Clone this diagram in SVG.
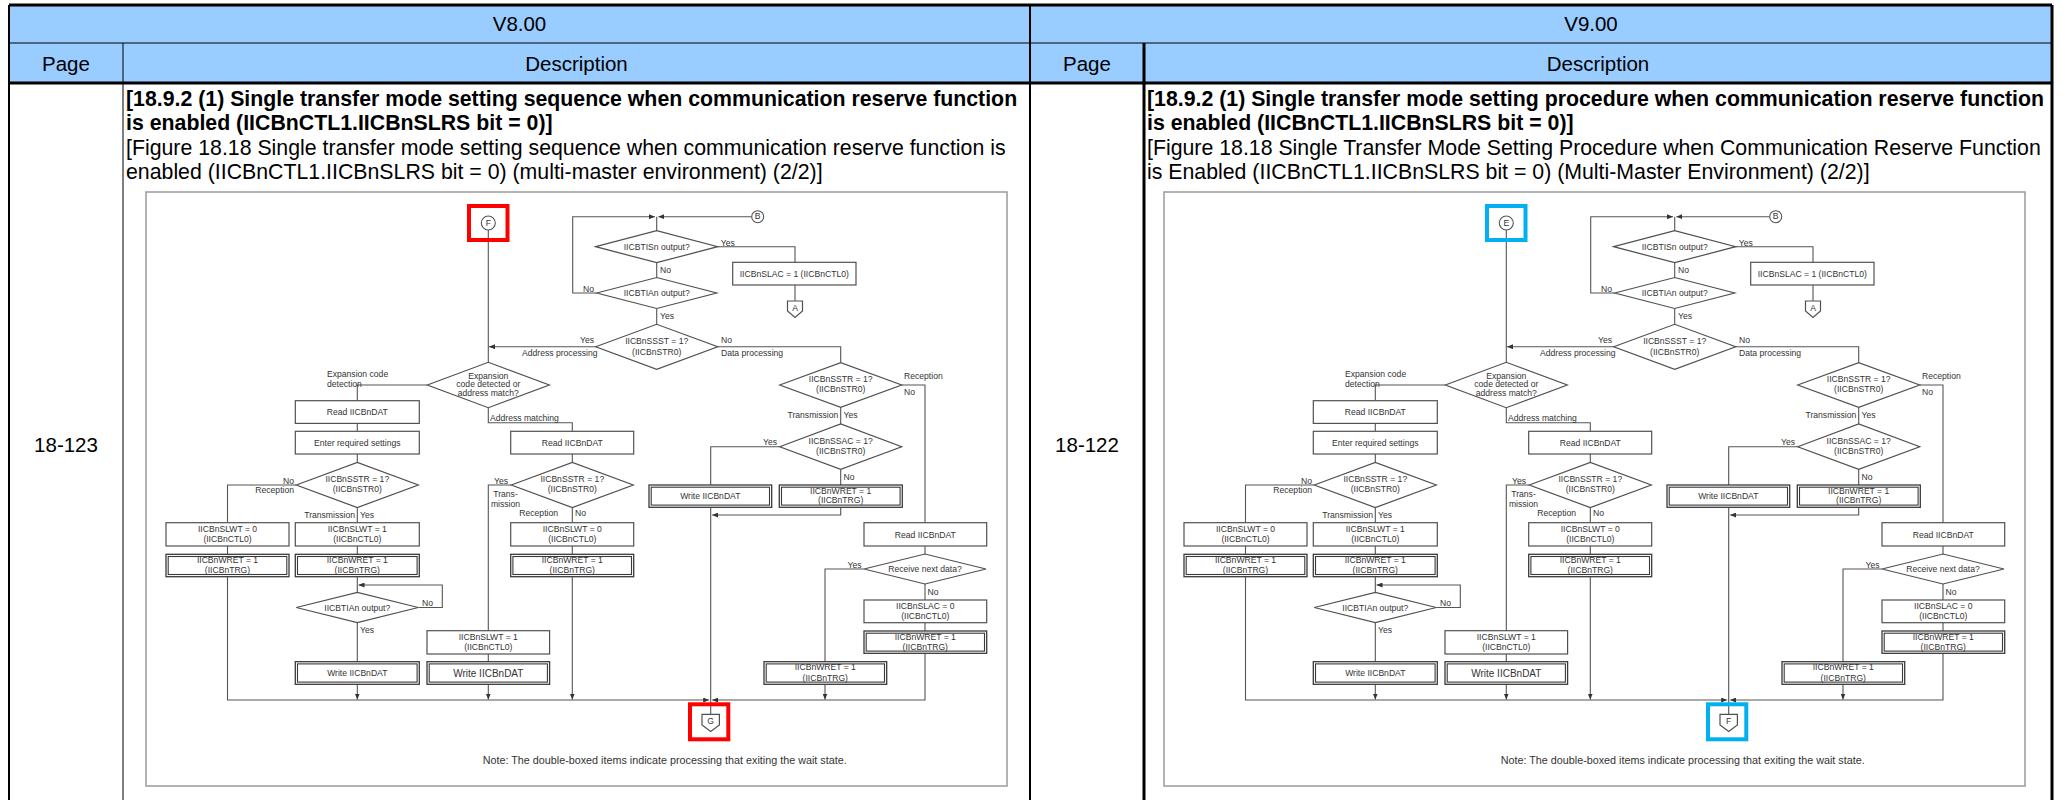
<svg xmlns="http://www.w3.org/2000/svg" width="2063" height="800" viewBox="0 0 2063 800">
<style>
.hd{font-family:"Liberation Sans",Arial,sans-serif;font-size:20.5px;fill:#000;text-anchor:middle}
.bd{font-family:"Liberation Sans",Arial,sans-serif;font-size:21.3px;fill:#000}
.b{font-weight:bold}
.fr{fill:#fff;stroke:#9a9a9a;stroke-width:1.5}
.ln{fill:none;stroke:#555;stroke-width:1.1}
.ar{marker-end:url(#ah)}
.bx{fill:#fff;stroke:#505050;stroke-width:1.2}
.db{fill:#fff;stroke:#3a3a3a;stroke-width:1.3}
.di{fill:none;stroke:#3a3a3a;stroke-width:1.1}
.dm{fill:#fff;stroke:#505050;stroke-width:1.2}
.s{font-family:"Liberation Sans",Arial,sans-serif;font-size:8.6px;fill:#333;text-anchor:middle}
.s2{font-family:"Liberation Sans",Arial,sans-serif;font-size:10px;fill:#333;text-anchor:middle}
.sl{font-family:"Liberation Sans",Arial,sans-serif;font-size:8.6px;fill:#333}
.sr{font-family:"Liberation Sans",Arial,sans-serif;font-size:8.6px;fill:#333;text-anchor:end}
.nt{font-family:"Liberation Sans",Arial,sans-serif;font-size:10px;fill:#333}
.hr{fill:none;stroke:#f00;stroke-width:4}
.hb{fill:none;stroke:#00b0f0;stroke-width:4}
.tb{fill:none;stroke:#000}
</style>
<defs>
<marker id="ah" markerWidth="6" markerHeight="5" viewBox="0 0 6 5" refX="6" refY="2.5" orient="auto" markerUnits="userSpaceOnUse"><path d="M0,0 L6,2.5 L0,5 Z" fill="#333"/></marker>
</defs>
<rect width="2063" height="800" fill="#fff"/>
<g id="table">
<rect x="9" y="5" width="2043" height="78" fill="#99ccff"/>
<path class="tb" stroke-width="1" d="M9 43H2052M123 43V800"/>
<path class="tb" stroke-width="3" d="M9 5H2052M9 83H2052M2052 5V800M1144 43V800"/>
<path class="tb" stroke-width="2" d="M9 5V800M1030 5V800"/>
<text class="hd" x="519.5" y="31">V8.00</text>
<text class="hd" x="1591" y="31">V9.00</text>
<text class="hd" x="66" y="70.5">Page</text>
<text class="hd" x="576.5" y="70.5">Description</text>
<text class="hd" x="1087" y="70.5">Page</text>
<text class="hd" x="1598" y="70.5">Description</text>
<text class="hd" x="66" y="452">18-123</text>
<text class="hd" x="1087" y="452">18-122</text>
<text class="bd b" x="126" y="105.5">[18.9.2 (1) Single transfer mode setting sequence when communication reserve function</text>
<text class="bd b" x="126" y="130">is enabled (IICBnCTL1.IICBnSLRS bit = 0)]</text>
<text class="bd" x="126" y="154.5">[Figure 18.18 Single transfer mode setting sequence when communication reserve function is</text>
<text class="bd" x="126" y="179">enabled (IICBnCTL1.IICBnSLRS bit = 0) (multi-master environment) (2/2)]</text>
<text class="bd b" x="1147" y="105.5">[18.9.2 (1) Single transfer mode setting procedure when communication reserve function</text>
<text class="bd b" x="1147" y="130">is enabled (IICBnCTL1.IICBnSLRS bit = 0)]</text>
<text class="bd" x="1147" y="154.5">[Figure 18.18 Single Transfer Mode Setting Procedure when Communication Reserve Function</text>
<text class="bd" x="1147" y="179">is Enabled (IICBnCTL1.IICBnSLRS bit = 0) (Multi-Master Environment) (2/2)]</text>
</g>

<g id="flow-v8">
<rect class="fr" x="146" y="192" width="861" height="594"/>
<g id="v8-connectors">
<path class="ln" d="M488.3 230V362.3"/>
<path class="ln ar" d="M596.7 293H572.7V216.7H655"/>
<path class="ln ar" d="M751.5 216.7H658.4"/>
<path class="ln" d="M656.7 216.7V230.7M656.7 262.7V277.5M717.7 246.7H795V262.3M795 285V301M656.7 308.5V324.3"/>
<path class="ln ar" d="M595.7 346.7H489"/>
<path class="ln" d="M717.7 346.7H840.7V362.7M427.3 385H357.3V400.7M488.3 407.7V422.7H572.3V431.3M357.3 423.3V431.3M357.3 454V462.5M296.3 485H227.5V522.7M357.3 507.5V522.7M227.5 546V554.3M357.3 546V554.3M357.3 576.7V592.3M357.3 622.7V661.7"/>
<path class="ln ar" d="M227.5 576.7V700H709.2"/>
<path class="ln ar" d="M418.3 607.5H442.3V585H358.5"/>
<path class="ln ar" d="M357.3 684.3V699.5"/>
<path class="ln" d="M572.3 454V462.5M511.3 485H488.3V630.7M572.3 507.5V522.7M572.3 546V554.3M488.3 654V661.7"/>
<path class="ln ar" d="M572.3 576.7V699.5"/>
<path class="ln ar" d="M488.3 684.3V699.5"/>
<path class="ln" d="M840.7 407.3V424M901.7 385H925V522.7M779.7 446.7H710.7V485M840.7 469.3V485M710.7 507.3V714.3M925 546V554M864 569H825V661.7M925 584V600M925 622.7V631"/>
<path class="ln ar" d="M840.7 507.3V515H712.2"/>
<path class="ln ar" d="M925 653.3V700H712.2"/>
<path class="ln ar" d="M825 684.3V699.5"/>
<text class="sl" x="660" y="273">No</text>
<text class="sl" x="720.7" y="245.5">Yes</text>
<text class="sr" x="594" y="292">No</text>
<text class="sl" x="660" y="319">Yes</text>
<text class="sr" x="594" y="343">Yes</text>
<text class="sr" x="597.5" y="355.5">Address processing</text>
<text class="sl" x="721" y="343">No</text>
<text class="sl" x="721" y="355.5">Data processing</text>
<text class="sl" x="327" y="377">Expansion code</text>
<text class="sl" x="327" y="387.3">detection</text>
<text class="sl" x="490" y="420.5">Address matching</text>
<text class="sr" x="294" y="483.5">No</text>
<text class="sr" x="294" y="493">Reception</text>
<text class="sr" x="355" y="518">Transmission</text>
<text class="sl" x="360" y="518">Yes</text>
<text class="sr" x="508" y="483.5">Yes</text>
<text class="s" x="505.5" y="497">Trans-</text>
<text class="s" x="505.5" y="507">mission</text>
<text class="sr" x="558" y="516">Reception</text>
<text class="sl" x="575" y="516">No</text>
<text class="sl" x="904" y="379">Reception</text>
<text class="sl" x="904" y="394.5">No</text>
<text class="sr" x="838.3" y="418">Transmission</text>
<text class="sl" x="843.5" y="418">Yes</text>
<text class="sr" x="777" y="445">Yes</text>
<text class="sl" x="843.5" y="479.5">No</text>
<text class="sl" x="422" y="606">No</text>
<text class="sl" x="360" y="633">Yes</text>
<text class="sr" x="861.5" y="567.5">Yes</text>
<text class="sl" x="927.5" y="594.5">No</text>
</g>
<g id="v8-conn-F"><circle cx="488.3" cy="223" r="7" fill="#fff" stroke="#555" stroke-width="1.1"/><text class="s" x="488.3" y="226" font-size="7">F</text><rect class="hr" x="469" y="206" width="38.5" height="34"/></g>
<g id="v8-conn-B"><circle cx="757.7" cy="216.7" r="6" fill="#fff" stroke="#555" stroke-width="1.1"/><text class="s" x="757.7" y="219.3" font-size="7">B</text></g>
<g id="v8-tis"><polygon class="dm" points="595.7,246.7 656.7,230.7 717.7,246.7 656.7,262.7"/><text class="s" x="656.7" y="249.7">IICBTISn output?</text></g>
<g id="v8-tia"><polygon class="dm" points="596.7,293 656.7,277.5 716.7,293 656.7,308.5"/><text class="s" x="656.7" y="296">IICBTIAn output?</text></g>
<g id="v8-slac1"><rect class="bx" x="732.7" y="262.3" width="123.3" height="22.7"/><text class="s" x="794.3" y="276.7">IICBnSLAC = 1 (IICBnCTL0)</text></g>
<g id="v8-conn-A"><path class="dm" d="M787.5 301H802.5V311L795 317.5L787.5 311Z"/><text class="s" x="795" y="310.5" font-size="7">A</text></g>
<g id="v8-ssst"><polygon class="dm" points="595.7,346.7 656.7,324.3 717.7,346.7 656.7,369.3"/><text class="s" x="656.7" y="344">IICBnSSST = 1?</text><text class="s" x="656.7" y="354.7">(IICBnSTR0)</text></g>
<g id="v8-exp"><polygon class="dm" points="427.3,385 488.3,362.3 549.3,385 488.3,407.7"/><text class="s" x="488.3" y="378.7">Expansion</text><text class="s" x="488.3" y="387.3">code detected or</text><text class="s" x="488.3" y="396">address match?</text></g>
<g id="v8-rd1"><rect class="bx" x="295.3" y="400.7" width="124" height="22.7"/><text class="s" x="357.3" y="415">Read IICBnDAT</text></g>
<g id="v8-ers"><rect class="bx" x="295.3" y="431.3" width="124" height="22.7"/><text class="s" x="357.3" y="445.7">Enter required settings</text></g>
<g id="v8-sstr1"><polygon class="dm" points="296.3,485 357.3,462.5 418.3,485 357.3,507.5"/><text class="s" x="357.3" y="482.3">IICBnSSTR = 1?</text><text class="s" x="357.3" y="492.3">(IICBnSTR0)</text></g>
<g id="v8-slwt0a"><rect class="bx" x="166" y="522.7" width="123" height="23.3"/><text class="s" x="227.5" y="531.5">IICBnSLWT = 0</text><text class="s" x="227.5" y="542">(IICBnCTL0)</text></g>
<g id="v8-wret1"><rect class="db" x="166" y="554.3" width="123" height="22.4"/><rect class="di" x="168.2" y="556.5" width="118.6" height="18"/><text class="s" x="227.5" y="563">IICBnWRET = 1</text><text class="s" x="227.5" y="573">(IICBnTRG)</text></g>
<g id="v8-slwt1a"><rect class="bx" x="295.3" y="522.7" width="124" height="23.3"/><text class="s" x="357.3" y="531.5">IICBnSLWT = 1</text><text class="s" x="357.3" y="542">(IICBnCTL0)</text></g>
<g id="v8-wret2"><rect class="db" x="295.3" y="554.3" width="124" height="22.4"/><rect class="di" x="297.5" y="556.5" width="119.6" height="18"/><text class="s" x="357.3" y="563">IICBnWRET = 1</text><text class="s" x="357.3" y="573">(IICBnTRG)</text></g>
<g id="v8-tia2"><polygon class="dm" points="296.3,607.5 357.3,592.3 418.3,607.5 357.3,622.7"/><text class="s" x="357.3" y="610.5">IICBTIAn output?</text></g>
<g id="v8-wr1"><rect class="db" x="295.3" y="661.7" width="124" height="22.6"/><rect class="di" x="297.5" y="663.9" width="119.6" height="18.2"/><text class="s" x="357.3" y="676">Write IICBnDAT</text></g>
<g id="v8-rd2"><rect class="bx" x="510.7" y="431.3" width="123" height="22.7"/><text class="s" x="572.3" y="445.7">Read IICBnDAT</text></g>
<g id="v8-sstr2"><polygon class="dm" points="511.3,485 572.3,462.5 633.3,485 572.3,507.5"/><text class="s" x="572.3" y="482.3">IICBnSSTR = 1?</text><text class="s" x="572.3" y="492.3">(IICBnSTR0)</text></g>
<g id="v8-slwt0b"><rect class="bx" x="510.7" y="522.7" width="123" height="23.3"/><text class="s" x="572.3" y="531.5">IICBnSLWT = 0</text><text class="s" x="572.3" y="542">(IICBnCTL0)</text></g>
<g id="v8-wret3"><rect class="db" x="510.7" y="554.3" width="123" height="22.4"/><rect class="di" x="512.9" y="556.5" width="118.6" height="18"/><text class="s" x="572.3" y="563">IICBnWRET = 1</text><text class="s" x="572.3" y="573">(IICBnTRG)</text></g>
<g id="v8-slwt1b"><rect class="bx" x="427" y="630.7" width="122.6" height="23.3"/><text class="s" x="488.3" y="639.5">IICBnSLWT = 1</text><text class="s" x="488.3" y="650">(IICBnCTL0)</text></g>
<g id="v8-wr2"><rect class="db" x="427" y="661.7" width="122.6" height="22.6"/><rect class="di" x="429.2" y="663.9" width="118.2" height="18.2"/><text class="s2" x="488.3" y="676.5">Write IICBnDAT</text></g>
<g id="v8-sstr3"><polygon class="dm" points="779.7,385 840.7,362.7 901.7,385 840.7,407.3"/><text class="s" x="840.7" y="382.3">IICBnSSTR = 1?</text><text class="s" x="840.7" y="392.3">(IICBnSTR0)</text></g>
<g id="v8-ssac"><polygon class="dm" points="779.7,446.7 840.7,424 901.7,446.7 840.7,469.3"/><text class="s" x="840.7" y="444">IICBnSSAC = 1?</text><text class="s" x="840.7" y="454.3">(IICBnSTR0)</text></g>
<g id="v8-wr3"><rect class="db" x="649" y="485" width="122.7" height="22.3"/><rect class="di" x="651.2" y="487.2" width="118.3" height="17.9"/><text class="s" x="710.3" y="499">Write IICBnDAT</text></g>
<g id="v8-wret4"><rect class="db" x="779.3" y="485" width="123" height="22.3"/><rect class="di" x="781.5" y="487.2" width="118.6" height="17.9"/><text class="s" x="840.7" y="493.5">IICBnWRET = 1</text><text class="s" x="840.7" y="503">(IICBnTRG)</text></g>
<g id="v8-rd3"><rect class="bx" x="864" y="522.7" width="122.7" height="23.3"/><text class="s" x="925.3" y="537.5">Read IICBnDAT</text></g>
<g id="v8-rnd"><polygon class="dm" points="864,569 925,554 986,569 925,584"/><text class="s" x="925" y="572">Receive next data?</text></g>
<g id="v8-slac0"><rect class="bx" x="864" y="600" width="122.7" height="22.7"/><text class="s" x="925.3" y="608.7">IICBnSLAC = 0</text><text class="s" x="925.3" y="619">(IICBnCTL0)</text></g>
<g id="v8-wret5"><rect class="db" x="864" y="631" width="122.7" height="22.3"/><rect class="di" x="866.2" y="633.2" width="118.3" height="17.9"/><text class="s" x="925.3" y="639.5">IICBnWRET = 1</text><text class="s" x="925.3" y="649.7">(IICBnTRG)</text></g>
<g id="v8-wret6"><rect class="db" x="764" y="661.7" width="122.7" height="22.6"/><rect class="di" x="766.2" y="663.9" width="118.3" height="18.2"/><text class="s" x="825.3" y="670.3">IICBnWRET = 1</text><text class="s" x="825.3" y="680.5">(IICBnTRG)</text></g>
<g id="v8-conn-G"><path class="dm" d="M702 714.3H719.4V725L710.7 731.5L702 725Z"/><text class="s" x="710.7" y="723.8" font-size="7">G</text><rect class="hr" x="690" y="704.3" width="38.3" height="35"/></g>
<text class="nt" x="482.7" y="764" textLength="364" lengthAdjust="spacingAndGlyphs">Note: The double-boxed items indicate processing that exiting the wait state.</text>
</g>

<g id="flow-v9" transform="translate(1018,0)">
<rect class="fr" x="146" y="192" width="861" height="594"/>
<g id="v9-connectors">
<path class="ln" d="M488.3 230V362.3"/>
<path class="ln ar" d="M596.7 293H572.7V216.7H655"/>
<path class="ln ar" d="M751.5 216.7H658.4"/>
<path class="ln" d="M656.7 216.7V230.7M656.7 262.7V277.5M717.7 246.7H795V262.3M795 285V301M656.7 308.5V324.3"/>
<path class="ln ar" d="M595.7 346.7H489"/>
<path class="ln" d="M717.7 346.7H840.7V362.7M427.3 385H357.3V400.7M488.3 407.7V422.7H572.3V431.3M357.3 423.3V431.3M357.3 454V462.5M296.3 485H227.5V522.7M357.3 507.5V522.7M227.5 546V554.3M357.3 546V554.3M357.3 576.7V592.3M357.3 622.7V661.7"/>
<path class="ln ar" d="M227.5 576.7V700H709.2"/>
<path class="ln ar" d="M418.3 607.5H442.3V585H358.5"/>
<path class="ln ar" d="M357.3 684.3V699.5"/>
<path class="ln" d="M572.3 454V462.5M511.3 485H488.3V630.7M572.3 507.5V522.7M572.3 546V554.3M488.3 654V661.7"/>
<path class="ln ar" d="M572.3 576.7V699.5"/>
<path class="ln ar" d="M488.3 684.3V699.5"/>
<path class="ln" d="M840.7 407.3V424M901.7 385H925V522.7M779.7 446.7H710.7V485M840.7 469.3V485M710.7 507.3V714.3M925 546V554M864 569H825V661.7M925 584V600M925 622.7V631"/>
<path class="ln ar" d="M840.7 507.3V515H712.2"/>
<path class="ln ar" d="M925 653.3V700H712.2"/>
<path class="ln ar" d="M825 684.3V699.5"/>
<text class="sl" x="660" y="273">No</text>
<text class="sl" x="720.7" y="245.5">Yes</text>
<text class="sr" x="594" y="292">No</text>
<text class="sl" x="660" y="319">Yes</text>
<text class="sr" x="594" y="343">Yes</text>
<text class="sr" x="597.5" y="355.5">Address processing</text>
<text class="sl" x="721" y="343">No</text>
<text class="sl" x="721" y="355.5">Data processing</text>
<text class="sl" x="327" y="377">Expansion code</text>
<text class="sl" x="327" y="387.3">detection</text>
<text class="sl" x="490" y="420.5">Address matching</text>
<text class="sr" x="294" y="483.5">No</text>
<text class="sr" x="294" y="493">Reception</text>
<text class="sr" x="355" y="518">Transmission</text>
<text class="sl" x="360" y="518">Yes</text>
<text class="sr" x="508" y="483.5">Yes</text>
<text class="s" x="505.5" y="497">Trans-</text>
<text class="s" x="505.5" y="507">mission</text>
<text class="sr" x="558" y="516">Reception</text>
<text class="sl" x="575" y="516">No</text>
<text class="sl" x="904" y="379">Reception</text>
<text class="sl" x="904" y="394.5">No</text>
<text class="sr" x="838.3" y="418">Transmission</text>
<text class="sl" x="843.5" y="418">Yes</text>
<text class="sr" x="777" y="445">Yes</text>
<text class="sl" x="843.5" y="479.5">No</text>
<text class="sl" x="422" y="606">No</text>
<text class="sl" x="360" y="633">Yes</text>
<text class="sr" x="861.5" y="567.5">Yes</text>
<text class="sl" x="927.5" y="594.5">No</text>
</g>
<g id="v9-conn-E"><circle cx="488.3" cy="223" r="7" fill="#fff" stroke="#555" stroke-width="1.1"/><text class="s" x="488.3" y="226" font-size="7">E</text><rect class="hb" x="469" y="206" width="38.5" height="34"/></g>
<g id="v9-conn-B"><circle cx="757.7" cy="216.7" r="6" fill="#fff" stroke="#555" stroke-width="1.1"/><text class="s" x="757.7" y="219.3" font-size="7">B</text></g>
<g id="v9-tis"><polygon class="dm" points="595.7,246.7 656.7,230.7 717.7,246.7 656.7,262.7"/><text class="s" x="656.7" y="249.7">IICBTISn output?</text></g>
<g id="v9-tia"><polygon class="dm" points="596.7,293 656.7,277.5 716.7,293 656.7,308.5"/><text class="s" x="656.7" y="296">IICBTIAn output?</text></g>
<g id="v9-slac1"><rect class="bx" x="732.7" y="262.3" width="123.3" height="22.7"/><text class="s" x="794.3" y="276.7">IICBnSLAC = 1 (IICBnCTL0)</text></g>
<g id="v9-conn-A"><path class="dm" d="M787.5 301H802.5V311L795 317.5L787.5 311Z"/><text class="s" x="795" y="310.5" font-size="7">A</text></g>
<g id="v9-ssst"><polygon class="dm" points="595.7,346.7 656.7,324.3 717.7,346.7 656.7,369.3"/><text class="s" x="656.7" y="344">IICBnSSST = 1?</text><text class="s" x="656.7" y="354.7">(IICBnSTR0)</text></g>
<g id="v9-exp"><polygon class="dm" points="427.3,385 488.3,362.3 549.3,385 488.3,407.7"/><text class="s" x="488.3" y="378.7">Expansion</text><text class="s" x="488.3" y="387.3">code detected or</text><text class="s" x="488.3" y="396">address match?</text></g>
<g id="v9-rd1"><rect class="bx" x="295.3" y="400.7" width="124" height="22.7"/><text class="s" x="357.3" y="415">Read IICBnDAT</text></g>
<g id="v9-ers"><rect class="bx" x="295.3" y="431.3" width="124" height="22.7"/><text class="s" x="357.3" y="445.7">Enter required settings</text></g>
<g id="v9-sstr1"><polygon class="dm" points="296.3,485 357.3,462.5 418.3,485 357.3,507.5"/><text class="s" x="357.3" y="482.3">IICBnSSTR = 1?</text><text class="s" x="357.3" y="492.3">(IICBnSTR0)</text></g>
<g id="v9-slwt0a"><rect class="bx" x="166" y="522.7" width="123" height="23.3"/><text class="s" x="227.5" y="531.5">IICBnSLWT = 0</text><text class="s" x="227.5" y="542">(IICBnCTL0)</text></g>
<g id="v9-wret1"><rect class="db" x="166" y="554.3" width="123" height="22.4"/><rect class="di" x="168.2" y="556.5" width="118.6" height="18"/><text class="s" x="227.5" y="563">IICBnWRET = 1</text><text class="s" x="227.5" y="573">(IICBnTRG)</text></g>
<g id="v9-slwt1a"><rect class="bx" x="295.3" y="522.7" width="124" height="23.3"/><text class="s" x="357.3" y="531.5">IICBnSLWT = 1</text><text class="s" x="357.3" y="542">(IICBnCTL0)</text></g>
<g id="v9-wret2"><rect class="db" x="295.3" y="554.3" width="124" height="22.4"/><rect class="di" x="297.5" y="556.5" width="119.6" height="18"/><text class="s" x="357.3" y="563">IICBnWRET = 1</text><text class="s" x="357.3" y="573">(IICBnTRG)</text></g>
<g id="v9-tia2"><polygon class="dm" points="296.3,607.5 357.3,592.3 418.3,607.5 357.3,622.7"/><text class="s" x="357.3" y="610.5">IICBTIAn output?</text></g>
<g id="v9-wr1"><rect class="db" x="295.3" y="661.7" width="124" height="22.6"/><rect class="di" x="297.5" y="663.9" width="119.6" height="18.2"/><text class="s" x="357.3" y="676">Write IICBnDAT</text></g>
<g id="v9-rd2"><rect class="bx" x="510.7" y="431.3" width="123" height="22.7"/><text class="s" x="572.3" y="445.7">Read IICBnDAT</text></g>
<g id="v9-sstr2"><polygon class="dm" points="511.3,485 572.3,462.5 633.3,485 572.3,507.5"/><text class="s" x="572.3" y="482.3">IICBnSSTR = 1?</text><text class="s" x="572.3" y="492.3">(IICBnSTR0)</text></g>
<g id="v9-slwt0b"><rect class="bx" x="510.7" y="522.7" width="123" height="23.3"/><text class="s" x="572.3" y="531.5">IICBnSLWT = 0</text><text class="s" x="572.3" y="542">(IICBnCTL0)</text></g>
<g id="v9-wret3"><rect class="db" x="510.7" y="554.3" width="123" height="22.4"/><rect class="di" x="512.9" y="556.5" width="118.6" height="18"/><text class="s" x="572.3" y="563">IICBnWRET = 1</text><text class="s" x="572.3" y="573">(IICBnTRG)</text></g>
<g id="v9-slwt1b"><rect class="bx" x="427" y="630.7" width="122.6" height="23.3"/><text class="s" x="488.3" y="639.5">IICBnSLWT = 1</text><text class="s" x="488.3" y="650">(IICBnCTL0)</text></g>
<g id="v9-wr2"><rect class="db" x="427" y="661.7" width="122.6" height="22.6"/><rect class="di" x="429.2" y="663.9" width="118.2" height="18.2"/><text class="s2" x="488.3" y="676.5">Write IICBnDAT</text></g>
<g id="v9-sstr3"><polygon class="dm" points="779.7,385 840.7,362.7 901.7,385 840.7,407.3"/><text class="s" x="840.7" y="382.3">IICBnSSTR = 1?</text><text class="s" x="840.7" y="392.3">(IICBnSTR0)</text></g>
<g id="v9-ssac"><polygon class="dm" points="779.7,446.7 840.7,424 901.7,446.7 840.7,469.3"/><text class="s" x="840.7" y="444">IICBnSSAC = 1?</text><text class="s" x="840.7" y="454.3">(IICBnSTR0)</text></g>
<g id="v9-wr3"><rect class="db" x="649" y="485" width="122.7" height="22.3"/><rect class="di" x="651.2" y="487.2" width="118.3" height="17.9"/><text class="s" x="710.3" y="499">Write IICBnDAT</text></g>
<g id="v9-wret4"><rect class="db" x="779.3" y="485" width="123" height="22.3"/><rect class="di" x="781.5" y="487.2" width="118.6" height="17.9"/><text class="s" x="840.7" y="493.5">IICBnWRET = 1</text><text class="s" x="840.7" y="503">(IICBnTRG)</text></g>
<g id="v9-rd3"><rect class="bx" x="864" y="522.7" width="122.7" height="23.3"/><text class="s" x="925.3" y="537.5">Read IICBnDAT</text></g>
<g id="v9-rnd"><polygon class="dm" points="864,569 925,554 986,569 925,584"/><text class="s" x="925" y="572">Receive next data?</text></g>
<g id="v9-slac0"><rect class="bx" x="864" y="600" width="122.7" height="22.7"/><text class="s" x="925.3" y="608.7">IICBnSLAC = 0</text><text class="s" x="925.3" y="619">(IICBnCTL0)</text></g>
<g id="v9-wret5"><rect class="db" x="864" y="631" width="122.7" height="22.3"/><rect class="di" x="866.2" y="633.2" width="118.3" height="17.9"/><text class="s" x="925.3" y="639.5">IICBnWRET = 1</text><text class="s" x="925.3" y="649.7">(IICBnTRG)</text></g>
<g id="v9-wret6"><rect class="db" x="764" y="661.7" width="122.7" height="22.6"/><rect class="di" x="766.2" y="663.9" width="118.3" height="18.2"/><text class="s" x="825.3" y="670.3">IICBnWRET = 1</text><text class="s" x="825.3" y="680.5">(IICBnTRG)</text></g>
<g id="v9-conn-F"><path class="dm" d="M702 714.3H719.4V725L710.7 731.5L702 725Z"/><text class="s" x="710.7" y="723.8" font-size="7">F</text><rect class="hb" x="690" y="704.3" width="38.3" height="35"/></g>
<text class="nt" x="482.7" y="764" textLength="364" lengthAdjust="spacingAndGlyphs">Note: The double-boxed items indicate processing that exiting the wait state.</text>
</g>
</svg>
